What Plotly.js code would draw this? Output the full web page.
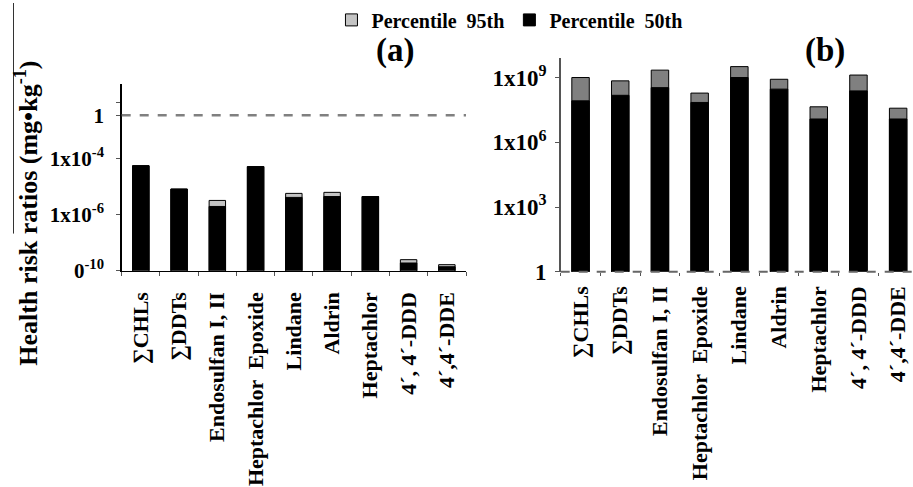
<!DOCTYPE html>
<html>
<head>
<meta charset="utf-8">
<script src="https://cdn.plot.ly/plotly-3.0.1.min.js"></script>
<style>html,body{margin:0;padding:0;background:#fff;}#chart{width:913px;height:487px;}</style>
</head>
<body>
<div id="chart"></div>
<script>
// ---- data ----
const categories = ["\u2211CHLs", "\u2211DDTs", "Endosulfan I, II", "Heptachlor  Epoxide", "Lindane", "Aldrin", "Heptachlor", "4\u00b4, 4\u00b4-DDD", "4\u00b4,4\u00b4-DDE"];
const p95A = [5.5e-5, 8.1e-6, 3.2e-6, 5.1e-5, 5.7e-6, 6.2e-6, 4.4e-6, 2.5e-8, 1.66e-8];
const p50A = [5.5e-5, 8.1e-6, 1.95e-6, 5.1e-5, 4.1e-6, 4.4e-6, 4.4e-6, 1.9e-8, 1.4e-8];
const p95B = [1.0e9, 7.0e8, 2.2e9, 1.9e8, 3.2e9, 8.3e8, 4.4e7, 1.3e9, 3.8e7];
const p50B = [8.3e7, 1.5e8, 3.4e8, 7.0e7, 1.0e9, 2.9e8, 1.2e7, 2.4e8, 1.2e7];
const refLineA = 3.4e-3; // position of the "1" reference line in panel (a)
const tickValsA = [1e-8, 1e-6, 1e-4, refLineA, 1e-2];
const tickTextA = ["0<sup>-10</sup>", "1x10<sup>-6</sup>", "1x10<sup>-4</sup>", "1", ""];
const tickValsB = [1, 1e3, 1e6, 1e9];
const tickTextB = ["1", "1x10<sup>3</sup>", "1x10<sup>6</sup>", "1x10<sup>9</sup>"];

const FONT = "Liberation Serif, Times New Roman, serif";
const W = 913, H = 487;

const traces = [
  {type: "bar", x: categories, y: p95A, name: "Percentile  95th", xaxis: "x", yaxis: "y",
   width: 0.43, marker: {color: "#c4c4c4", line: {color: "#000", width: 1}}},
  {type: "bar", x: categories, y: p50A, name: "Percentile  50th", xaxis: "x", yaxis: "y",
   width: 0.43, marker: {color: "#000", line: {color: "#000", width: 1}}},
  {type: "bar", x: categories, y: p95B, name: "Percentile  95th", xaxis: "x2", yaxis: "y2", showlegend: false,
   width: 0.44, marker: {color: "#808080", line: {color: "#000", width: 1}}},
  {type: "bar", x: categories, y: p50B, name: "Percentile  50th", xaxis: "x2", yaxis: "y2", showlegend: false,
   width: 0.44, marker: {color: "#000", line: {color: "#000", width: 1}}}
];

const tickFontX = {family: FONT, size: 22, color: "#000", weight: "bold"};
const tickFontYA = {family: FONT, size: 21, color: "#000", weight: "bold"};
const tickFontYB = {family: FONT, size: 23, color: "#000", weight: "bold"};

const layout = {
  width: W, height: H,
  margin: {l: 0, r: 0, t: 0, b: 0},
  paper_bgcolor: "#fff", plot_bgcolor: "rgba(0,0,0,0)",
  barmode: "overlay",
  font: {family: FONT, color: "#000"},
  showlegend: true,
  legend: {orientation: "h", x: 0.558, xanchor: "center", y: 1 - 17 / H, yanchor: "middle",
           itemwidth: 30, font: {family: FONT, size: 20, color: "#000", weight: "bold"}, traceorder: "normal"},
  xaxis: {domain: [121.7 / W, 466 / W], range: [-0.5, 8.5], type: "category", automargin: false,
          showline: true, linecolor: "#000", linewidth: 1.5, ticks: "outside", tickson: "boundaries",
          ticklen: 4, tickcolor: "#555", tickangle: -90, tickfont: tickFontX, ticklabelstandoff: 11,
          showgrid: false, fixedrange: true},
  yaxis: {domain: [1 - 269.5 / H, 1 - 81.7 / H], type: "log", range: [-8, -1.36], automargin: false,
          showline: true, linecolor: "#000", linewidth: 1.5, ticks: "outside", ticklen: 4, tickcolor: "#555",
          tickvals: tickValsA, ticktext: tickTextA, tickfont: tickFontYA, ticklabelstandoff: 8,
          showgrid: false, zeroline: false},
  xaxis2: {domain: [560.7 / W, 1], range: [-0.5, 8.374], type: "category", automargin: false, anchor: "y2",
           showline: false, ticks: "outside", tickson: "boundaries", ticklen: 3, tickcolor: "#555",
           tickangle: -90, tickfont: tickFontX, ticklabelstandoff: 9, showgrid: false},
  yaxis2: {domain: [1 - 270.5 / H, 1 - 55 / H], type: "log", range: [0, 9.92], automargin: false, anchor: "x2",
           showline: true, linecolor: "#555", linewidth: 1.5, ticks: "outside", ticklen: 4, tickcolor: "#555",
           tickvals: tickValsB, ticktext: tickTextB, tickfont: tickFontYB, ticklabelstandoff: 4,
           showgrid: false, zeroline: false},
  shapes: [
    {type: "line", xref: "x domain", yref: "y", x0: 0, x1: 1, y0: refLineA, y1: refLineA,
     line: {color: "#808080", width: 2.5, dash: "dash"}},
    {type: "line", xref: "x2 domain", yref: "y2 domain", x0: 0, x1: 1, y0: 0, y1: 0,
     line: {color: "#666", width: 2, dash: "dash"}, layer: "above"},
    {type: "line", xref: "paper", yref: "paper", x0: 13.5 / W, x1: 13.5 / W, y0: 1, y1: 1 - 232 / H,
     line: {color: "#333", width: 1}}
  ],
  annotations: [
    {text: "(a)", xref: "paper", yref: "paper", x: 395 / W, y: 1 - 48 / H, xanchor: "center", yanchor: "middle",
     showarrow: false, font: {family: FONT, size: 33, weight: "bold", color: "#000"}},
    {text: "(b)", xref: "paper", yref: "paper", x: 825 / W, y: 1 - 48 / H, xanchor: "center", yanchor: "middle",
     showarrow: false, font: {family: FONT, size: 33, weight: "bold", color: "#000"}},
    {text: "Health risk ratios (mg\u2022kg<sup>-1</sup>)", xref: "paper", yref: "paper",
     x: 27 / W, y: 1 - 212 / H, xanchor: "center", yanchor: "middle", textangle: -90, showarrow: false,
     font: {family: FONT, size: 26, weight: "bold", color: "#000"}}
  ]
};

Plotly.newPlot("chart", traces, layout, {displayModeBar: false, staticPlot: true});
</script>
</body>
</html>
